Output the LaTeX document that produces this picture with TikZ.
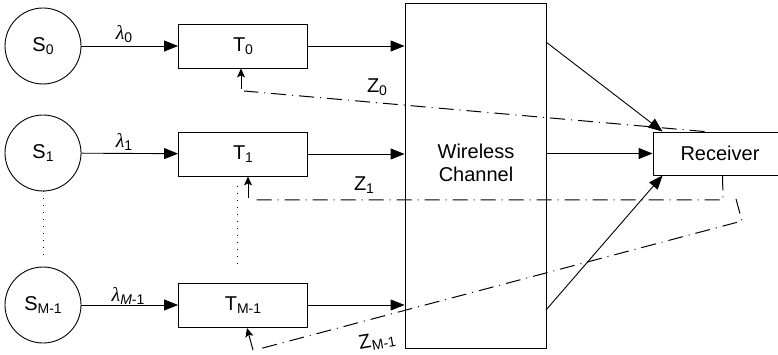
\documentclass[tikz,border=0pt]{standalone}
\usepackage{fontspec}
\setmainfont{Liberation Sans}
\newfontfamily\greekfont{Liberation Serif}
\usetikzlibrary{arrows.meta}
% subscript in the diagram's sans face
\newcommand\sbs[1]{\raisebox{-3pt}{\fontsize{14}{14}\selectfont #1}}
\newcommand\lam{{\greekfont\itshape λ}}
\newcommand\lsub[1]{\raisebox{-3pt}{\fontsize{14}{14}\selectfont #1}}

\begin{document}
\begin{tikzpicture}[x=1pt,y=-1pt,
  font=\fontsize{20}{23}\selectfont,
  src/.style={draw, circle, minimum size=76pt, inner sep=0pt, line width=0.9pt},
  txbox/.style={draw, minimum width=129pt, minimum height=44pt, inner sep=0pt, line width=0.9pt},
  flow/.style={-{Triangle[length=14pt,width=11pt]}, line width=0.9pt},
  fb/.style={line width=1pt, dash pattern=on 15pt off 6pt on 1pt off 6pt},
  fbtip/.style={-{Stealth[length=9pt,width=8pt,inset=2pt]}, line width=1pt},
  dots/.style={line width=1pt, dash pattern=on 1pt off 6pt},
  lbl/.style={inner sep=0pt}]

\useasboundingbox (0,0) rectangle (778,355);

% sources
\node[src] (S0) at (43,46) {S\sbs{0}};
\node[src] (S1) at (43,153) {S\sbs{1}};
\node[src] (S2) at (43,305) {S\sbs{M-1}};

% transmitters
\node[txbox] (T0) at (243,46) {T\sbs{0}};
\node[txbox] (T1) at (243,154) {T\sbs{1}};
\node[txbox] (T2) at (243,305) {T\sbs{M-1}};

% channel and receiver
\node[draw, line width=0.9pt, minimum width=141pt, minimum height=345pt, inner sep=0pt] (ch) at (475.5,175.5) {};
\node[align=center, lbl] (chtxt) at (476,163) {Wireless\\Channel};
\node[draw, line width=0.9pt, minimum width=134pt, minimum height=43pt, inner sep=0pt] (rec) at (720,153.5) {Receiver};

% rate labels
\node[lbl] (l0) at (124,34) {\lam\lsub{0}};
\node[lbl] (l1) at (124,142) {\lam\lsub{1}};
\node[lbl] (l2) at (128,296) {\lam\lsub{\itshape M\upshape -1}};

% source to transmitter
\draw[flow] (S0) -- (T0);
\draw[flow] (S1) -- (T1);
\draw[flow] (S2) -- (T2);

% transmitter to channel
\draw[flow] (T0.east) -- (T0.east -| ch.west);
\draw[flow] (T1.east) -- (T1.east -| ch.west);
\draw[flow] (T2.east) -- (T2.east -| ch.west);

% channel to receiver
\coordinate (chA) at (546,42);
\coordinate (chC) at (546,310);
\draw[flow] (chA) -- ([xshift=10pt]rec.north west);
\draw[flow] (rec.west -| ch.east) -- (rec.west);
\draw[flow] (chC) -- ([xshift=10pt]rec.south west);

% feedback paths
\coordinate (f0) at (244,91);
\coordinate (a0) at (241,89);
\draw[fb] ([xshift=52pt]rec.north west) -- (f0);
\draw[fbtip] (a0) -- (a0 |- T0.south);

\coordinate (f1a) at (723,200);
\coordinate (f1) at (252,200);
\coordinate (a1) at (248,198);
\draw[fb] ([xshift=70pt]rec.south west) -- (f1a) -- (f1);
\draw[fbtip] (a1) -- (a1 |- T1.south);

\coordinate (f2s) at (736,199);
\coordinate (f2a) at (742,221);
\coordinate (f2) at (259,349);
\coordinate (a2) at (253,350);
\coordinate (a2t) at (247,328);
\draw[fb] (f2s) -- (f2a) -- (f2);
\draw[fbtip] (a2) -- (a2t);

\node[lbl] (z0) at (377,87) {Z\sbs{0}};
\node[lbl] (z1) at (364,185) {Z\sbs{1}};
\node[lbl, rotate=10] (z2) at (377,341) {Z\kern0.5pt\sbs{M-1}};

% ellipsis between rows
\coordinate (d0) at (43,258);
\draw[dots] (S1.south) -- (d0);
\coordinate (d1a) at (237,186);
\coordinate (d1b) at (237,266);
\draw[dots] (d1a) -- (d1b);
\end{tikzpicture}
\end{document}
